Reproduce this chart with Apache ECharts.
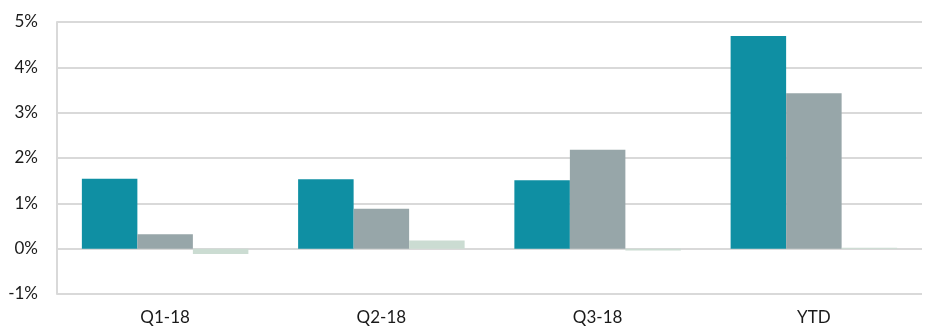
<!DOCTYPE html>
<html>
<head>
<meta charset="utf-8">
<script src="https://cdn.jsdelivr.net/npm/echarts@6/dist/echarts.min.js"></script>
<style>
  html, body { margin: 0; padding: 0; background: #fff; }
  #chart { width: 930px; height: 329px; }
</style>
</head>
<body>
<div id="chart"></div>
<script>
const categories = ['Q1-18', 'Q2-18', 'Q3-18', 'YTD'];
const seriesA = [1.54, 1.53, 1.51, 4.69];
const seriesB = [0.32, 0.88, 2.18, 3.43];
const seriesC = [-0.12, 0.18, -0.04, 0.02];
const yTicks = { min: -1, max: 5, interval: 1 };

const chart = echarts.init(document.getElementById('chart'));
const gridColor = '#d9d9d9';

const option = {
  animation: false,
  textStyle: { fontFamily: 'Lato, "Open Sans", sans-serif' },
  grid: { left: 57, right: 8, top: 22, bottom: 35 },
  xAxis: {
    type: 'category',
    data: categories,
    axisLine: { show: false },
    axisTick: { show: false },
    axisLabel: { color: '#1a1a1a', fontSize: 17, margin: 15 }
  },
  yAxis: {
    type: 'value',
    min: yTicks.min,
    max: yTicks.max,
    interval: yTicks.interval,
    axisLine: { show: true, lineStyle: { color: gridColor, width: 2 } },
    axisTick: { show: false },
    axisLabel: { color: '#1a1a1a', fontSize: 17, margin: 19, formatter: '{value}%' },
    splitLine: { lineStyle: { color: gridColor, width: 2 } }
  },
  series: [
    { name: 'A', type: 'bar', data: seriesA, barGap: '0%', barCategoryGap: '23%',
      itemStyle: { color: '#0f8fa3' } },
    { name: 'B', type: 'bar', data: seriesB, barGap: '0%', barCategoryGap: '23%',
      itemStyle: { color: '#97a6a9' } },
    { name: 'C', type: 'bar', data: seriesC, barGap: '0%', barCategoryGap: '23%',
      itemStyle: { color: '#cbdcd2' } }
  ]
};
chart.setOption(option);
window.addEventListener('resize', () => chart.resize());
</script>
</body>
</html>
